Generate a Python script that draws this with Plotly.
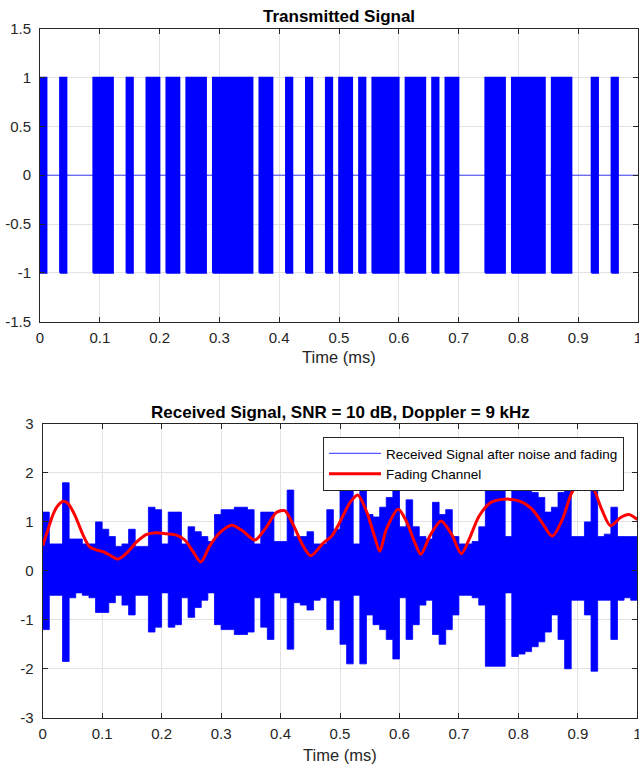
import plotly.graph_objects as go

# ---------------- data ----------------
# transmitted bit pattern (90 bits over 1 ms)
bits = [1, 0, 0, 1, 0, 0, 0, 0, 1, 1,
        1, 0, 0, 1, 0, 0, 1, 1, 0, 1,
        1, 0, 1, 1, 1, 0, 1, 1, 1, 1,
        1, 1, 0, 1, 1, 0, 0, 1, 0, 0,
        1, 0, 0, 1, 0, 1, 1, 0, 1, 0,
        1, 1, 1, 1, 0, 1, 1, 1, 0, 1,
        0, 1, 1, 0, 0, 0, 0, 1, 1, 1,
        0, 1, 1, 1, 1, 1, 0, 1, 1, 1,
        0, 0, 0, 1, 0, 0, 1, 0, 0, 0]
duration_ms = 1.0

# received signal envelope per bit (upper / lower extent)
received_upper = [1.2, 0.55, 0.55, 1.8, 0.65, 0.65, 0.55, 0.55, 1.0, 0.85,
                  0.7, 0.5, 0.55, 0.85, 0.5, 0.5, 1.3, 1.25, 0.55, 1.2,
                  1.2, 0.55, 0.9, 0.8, 0.7, 0.6, 1.15, 1.25, 1.25, 1.3,
                  1.3, 1.25, 0.55, 1.2, 1.2, 0.6, 0.6, 1.65, 0.7, 0.7,
                  0.8, 0.55, 0.55, 1.25, 0.85, 1.65, 1.9, 0.55, 2.0, 1.15,
                  1.1, 1.3, 1.5, 1.7, 0.9, 1.45, 0.9, 0.7, 0.65, 1.4,
                  1.15, 1.25, 0.7, 0.55, 0.55, 0.6, 0.9, 1.9, 1.9, 1.85,
                  0.7, 1.85, 1.7, 1.65, 1.6, 1.5, 1.2, 1.3, 1.6, 1.9,
                  0.7, 0.7, 1.0, 1.9, 0.7, 0.75, 1.3, 0.7, 0.7, 0.7]
received_lower = [-1.2, -0.5, -0.5, -1.85, -0.55, -0.45, -0.5, -0.55, -0.85, -0.85,
                  -0.65, -0.5, -0.7, -0.9, -0.5, -0.5, -1.25, -1.15, -0.45, -1.15,
                  -1.1, -0.55, -0.95, -0.75, -0.6, -0.45, -1.1, -1.2, -1.2, -1.3,
                  -1.3, -1.25, -0.55, -1.15, -1.4, -0.45, -0.55, -1.6, -0.65, -0.7,
                  -0.8, -0.6, -0.55, -1.2, -0.6, -1.5, -1.9, -0.5, -1.9, -0.9,
                  -1.1, -1.2, -1.4, -1.8, -0.55, -1.4, -1.1, -0.7, -0.6, -1.3,
                  -1.5, -1.2, -0.9, -0.5, -0.5, -0.55, -0.7, -1.95, -1.95, -1.95,
                  -0.45, -1.75, -1.7, -1.65, -1.55, -1.45, -1.25, -0.9, -1.4, -2.0,
                  -0.6, -0.6, -0.9, -2.05, -0.6, -0.6, -1.4, -0.6, -0.55, -0.6]

# fading channel magnitude
fade_t = [0, 0.0067, 0.018, 0.026, 0.035, 0.043, 0.054, 0.068, 0.079, 0.09,
          0.102, 0.113, 0.127, 0.141, 0.158, 0.174, 0.191, 0.208, 0.225, 0.239,
          0.253, 0.266, 0.281, 0.298, 0.318, 0.337, 0.357, 0.377, 0.393, 0.407,
          0.421, 0.438, 0.451, 0.472, 0.486, 0.5, 0.517, 0.53, 0.545, 0.559,
          0.567, 0.578, 0.598, 0.612, 0.626, 0.636, 0.651, 0.67, 0.688, 0.704,
          0.718, 0.734, 0.753, 0.773, 0.801, 0.823, 0.84, 0.857, 0.874, 0.89,
          0.907, 0.924, 0.94, 0.955, 0.972, 0.986, 1.0]
fade_v = [0.51, 0.76, 1.17, 1.34, 1.42, 1.37, 1.14, 0.73, 0.49, 0.43,
          0.39, 0.32, 0.24, 0.36, 0.59, 0.74, 0.78, 0.76, 0.73, 0.63,
          0.39, 0.18, 0.51, 0.78, 0.93, 0.81, 0.63, 0.91, 1.19, 1.23,
          0.95, 0.51, 0.31, 0.57, 0.71, 1.0, 1.4, 1.55, 1.2, 0.67,
          0.4, 0.85, 1.26, 1.0, 0.57, 0.34, 0.71, 1.02, 0.74, 0.35,
          0.67, 1.12, 1.39, 1.46, 1.43, 1.26, 0.98, 0.71, 1.05, 1.6,
          1.87, 1.73, 1.26, 0.92, 1.09, 1.15, 1.05]

x_ticks = [0, 0.1, 0.2, 0.3, 0.4, 0.5, 0.6, 0.7, 0.8, 0.9, 1]
x_tick_text = ["0", "0.1", "0.2", "0.3", "0.4", "0.5", "0.6", "0.7", "0.8", "0.9", "1"]
top_y_ticks = [-1.5, -1, -0.5, 0, 0.5, 1, 1.5]
top_y_text = ["-1.5", "-1", "-0.5", "0", "0.5", "1", "1.5"]
bot_y_ticks = [-3, -2, -1, 0, 1, 2, 3]
bot_y_text = ["-3", "-2", "-1", "0", "1", "2", "3"]

# ---------------- build ----------------
BLUE = "#0000ff"
RED = "#ff0000"
AX = "#262626"
GRID = "#e2e2e2"
FONT = "Liberation Sans, Arial, Helvetica, sans-serif"

n = len(bits)
dur = duration_ms / n

# runs of ones -> filled carrier blocks
blk_x, blk_y = [], []
k = 0
while k < n:
    if bits[k] == 1:
        s = k
        while k < n and bits[k] == 1:
            k += 1
        x0, x1 = s * dur, k * dur
        blk_x += [x0, x0, x1, x1, x0, None]
        blk_y += [-1, 1, 1, -1, -1, None]
    else:
        k += 1

fig = go.Figure()

fig.add_trace(go.Scatter(x=[0, duration_ms], y=[0, 0], mode="lines",
                         line=dict(color="rgba(0,0,255,0.75)", width=1), showlegend=False,
                         xaxis="x", yaxis="y", hoverinfo="skip"))
fig.add_trace(go.Scatter(x=blk_x, y=blk_y, mode="lines", fill="toself",
                         fillcolor=BLUE, line=dict(color=BLUE, width=1.6),
                         showlegend=False, xaxis="x", yaxis="y", hoverinfo="skip"))

step_x = [i * dur for i in range(n)] + [duration_ms]
fig.add_trace(go.Scatter(x=step_x, y=received_lower + [received_lower[-1]],
                         mode="lines", line=dict(color=BLUE, width=0.8, shape="hv"),
                         showlegend=False, xaxis="x2", yaxis="y2", hoverinfo="skip"))
fig.add_trace(go.Scatter(x=step_x, y=received_upper + [received_upper[-1]],
                         mode="lines", line=dict(color=BLUE, width=0.8, shape="hv"),
                         fill="tonexty", fillcolor=BLUE,
                         showlegend=False, xaxis="x2", yaxis="y2", hoverinfo="skip"))
# legend entry for the received signal
fig.add_trace(go.Scatter(x=[None], y=[None], mode="lines",
                         line=dict(color="rgba(70,70,255,0.9)", width=1.2),
                         name="Received Signal after noise and fading",
                         xaxis="x2", yaxis="y2"))
fig.add_trace(go.Scatter(x=fade_t, y=fade_v, mode="lines",
                         line=dict(color=RED, width=3, shape="spline", smoothing=0.8),
                         name="Fading Channel", xaxis="x2", yaxis="y2"))

W, H = 639, 768


def xax(dom, anchor):
    return dict(domain=dom, anchor=anchor, range=[0, 1], tickmode="array",
                tickvals=x_ticks, ticktext=x_tick_text, ticks="inside", ticklen=5,
                tickcolor=AX, showline=True, linecolor=AX, linewidth=1, mirror="ticks",
                showgrid=True, gridcolor=GRID, gridwidth=1, zeroline=False,
                automargin=False, ticklabeloverflow="allow",
                tickfont=dict(family=FONT, size=15, color=AX), ticklabelstandoff=2)


def yax(dom, anchor, rng, tv, tt):
    return dict(domain=dom, anchor=anchor, range=rng, tickmode="array",
                tickvals=tv, ticktext=tt, ticks="inside", ticklen=5,
                tickcolor=AX, showline=True, linecolor=AX, linewidth=1, mirror="ticks",
                showgrid=True, gridcolor=GRID, gridwidth=1, zeroline=False,
                automargin=False, ticklabeloverflow="allow",
                tickfont=dict(family=FONT, size=15, color=AX), ticklabelstandoff=5)


fig.update_layout(
    template="none",
    width=W, height=H, margin=dict(l=0, r=0, t=0, b=0, pad=0), autosize=False,
    paper_bgcolor="white", plot_bgcolor="white",
    xaxis=xax([40 / W, 638 / W], "y"),
    yaxis=yax([1 - 321.7 / H, 1 - 28.7 / H], "x", [-1.5, 1.5], top_y_ticks, top_y_text),
    xaxis2=xax([42.7 / W, 637.3 / W], "y2"),
    yaxis2=yax([1 - 717.7 / H, 1 - 424 / H], "x2", [-3, 3], bot_y_ticks, bot_y_text),
    showlegend=True,
    legend=dict(x=624 / W, y=1 - 437 / H, xanchor="right", yanchor="top",
                bgcolor="white", bordercolor=AX, borderwidth=1, traceorder="normal",
                font=dict(family=FONT, size=13.5, color="#000000"),
                itemwidth=52, tracegroupgap=0),
    annotations=[
        dict(text="<b>Transmitted Signal</b>", x=339 / W, y=1 - 16 / H, xref="paper", yref="paper",
             xanchor="center", yanchor="middle", showarrow=False,
             font=dict(family=FONT, size=17, color="#000000")),
        dict(text="<b>Received Signal, SNR = 10 dB, Doppler = 9 kHz</b>", x=340 / W, y=1 - 412 / H,
             xref="paper", yref="paper", xanchor="center", yanchor="middle", showarrow=False,
             font=dict(family=FONT, size=17, color="#000000")),
        dict(text="Time (ms)", x=339 / W, y=1 - 357 / H, xref="paper", yref="paper",
             xanchor="center", yanchor="middle", showarrow=False,
             font=dict(family=FONT, size=16.5, color=AX)),
        dict(text="Time (ms)", x=340 / W, y=1 - 755 / H, xref="paper", yref="paper",
             xanchor="center", yanchor="middle", showarrow=False,
             font=dict(family=FONT, size=16.5, color=AX)),
    ],
)

fig.write_html("out.html")
